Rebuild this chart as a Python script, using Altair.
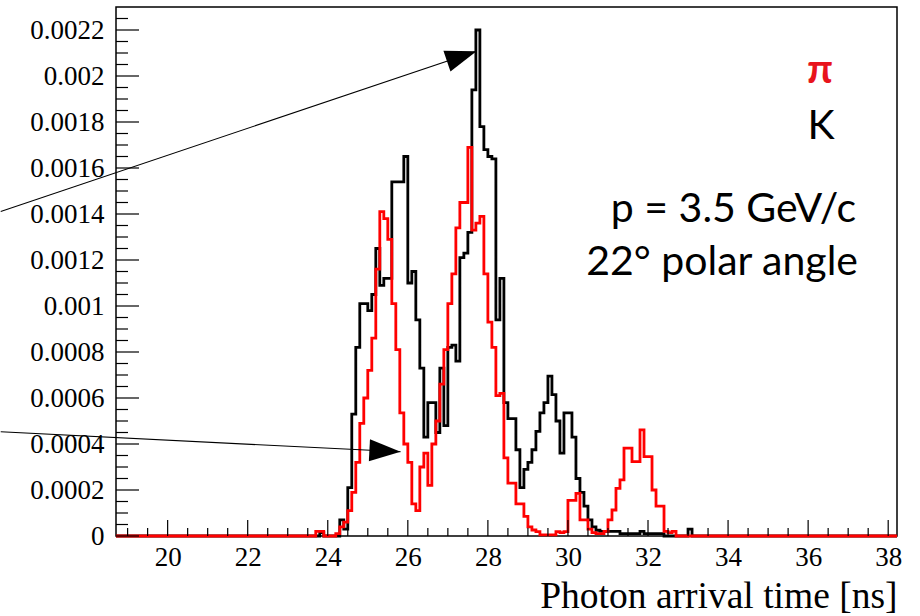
import altair as alt
import pandas as pd

# ---------------- data (values in units of 1e-4) ----------------
BIN_START = 23.5
BIN_WIDTH = 0.1
SCALE = 1e-4

K_VALUES = [
    0, 0, 0, 0.15, 0, 0, 0, 0, 0.7, 0.3,            # 23.5 - 24.4
    2.1, 5.3, 8.2, 10.1, 10.1, 9.8, 10.5, 12.5, 10.9, 11.2,   # 24.5 - 25.4
    11.2, 15.4, 15.4, 15.4, 16.5, 11.0, 11.5, 9.4, 7.3, 4.3,  # 25.5 - 26.4
    5.8, 5.8, 4.5, 7.3, 4.8, 8.2, 8.3, 7.6, 12.1, 12.3,       # 26.5 - 27.4
    13.2, 19.4, 22.0, 17.8, 16.8, 16.5, 16.4, 9.4, 11.2, 5.8, # 27.5 - 28.4
    5.1, 5.1, 3.75, 2.1, 2.9, 3.2, 3.75, 4.55, 5.35, 5.8,     # 28.5 - 29.4
    6.95, 6.15, 5.0, 3.6, 5.35, 5.35, 4.3, 2.5, 1.9, 1.3,     # 29.5 - 30.4
    0.7, 0.4, 0.25, 0.2, 0.2, 0.2, 0.2, 0.2, 0.1, 0.1,        # 30.5 - 31.4
    0.1, 0.1, 0.1, 0.2, 0.1, 0.1, 0.1, 0.1, 0.1, 0,           # 31.5 - 32.4
    0, 0, 0, 0, 0, 0.3, 0, 0, 0, 0,                           # 32.5 - 33.4
]

PI_VALUES = [
    0, 0, 0.2, 0.2, 0, 0, 0, 0.1, 0.4, 0.6,                   # 23.5 - 24.4
    1.1, 1.9, 3.2, 4.9, 6.0, 7.2, 8.6, 11.6, 14.1, 13.8,      # 24.5 - 25.4
    12.9, 10.1, 8.1, 5.35, 4.0, 3.2, 1.4, 1.1, 3.0, 3.6,      # 25.5 - 26.4
    2.2, 4.0, 5.0, 6.6, 8.1, 10.1, 11.4, 13.4, 14.5, 14.5,    # 26.5 - 27.4
    16.9, 13.3, 13.6, 13.9, 11.4, 9.3, 8.2, 6.1, 6.2, 3.4,    # 27.5 - 28.4
    2.3, 2.3, 1.4, 1.4, 0.85, 0.4, 0.26, 0.19, 0.05, 0.05,    # 28.5 - 29.4
    0.05, 0.05, 0.19, 0.15, 0.19, 1.55, 1.55, 1.85, 0.7, 0.7, # 29.5 - 30.4
    0.3, 0.15, 0.1, 0.1, 0.2, 0.7, 1.13, 2.07, 2.44, 3.82,    # 30.5 - 31.4
    3.82, 3.23, 3.23, 4.61, 3.45, 3.45, 2.0, 1.3, 1.3, 0.2,   # 31.5 - 32.4
    0.15, 0.2, 0, 0, 0, 0, 0, 0, 0, 0,                        # 32.5 - 33.4
]

X_DOMAIN = [18.71, 38.22]
Y_DOMAIN = [0, 0.0023]
X_MAJOR = [20, 22, 24, 26, 28, 30, 32, 34, 36, 38]
Y_MAJOR = [0, 0.0002, 0.0004, 0.0006, 0.0008, 0.001, 0.0012,
           0.0014, 0.0016, 0.0018, 0.002, 0.0022]

# arrow annotations (data coordinates): start and tip
ARROW_START_X = [15.83, 15.83]
ARROW_START_Y = [0.001411, 0.000453]
ARROW_TIP_X = [27.716, 25.819]
ARROW_TIP_Y = [0.002108, 0.000366]
ARROW_ANGLE = [341.4, 2.9]

# ---------------- build tables ----------------
def step_table(values, name):
    rows = [{"ns": X_DOMAIN[0], "v": 0.0, "s": name}]
    for i, v in enumerate(values):
        rows.append({"ns": round(BIN_START + i * BIN_WIDTH, 3), "v": v * SCALE, "s": name})
    rows.append({"ns": round(BIN_START + len(values) * BIN_WIDTH, 3), "v": 0.0, "s": name})
    rows.append({"ns": X_DOMAIN[1], "v": 0.0, "s": name})
    return pd.DataFrame(rows)

k_df = step_table(K_VALUES, "K")
pi_df = step_table(PI_VALUES, "pi")

x_minor = [19 + 0.5 * i for i in range(39) if (19 + 0.5 * i) not in X_MAJOR]
y_minor = [i * 0.00005 for i in range(46) if i % 4 != 0]

W, H = 781, 529
SERIF = "Liberation Serif"
SANS = "Lato"

xs = alt.Scale(domain=X_DOMAIN, nice=False, zero=False)
ys = alt.Scale(domain=Y_DOMAIN, nice=False)

x_axis = alt.Axis(values=X_MAJOR, format="d", labelFont=SERIF, labelFontSize=27,
                  labelColor="black", ticks=False, domain=False, grid=False,
                  labelPadding=8, labelFlush=False, labelOverlap=False,
                  title="Photon arrival time [ns]", titleFont=SERIF, titleFontSize=37.5,
                  titleFontWeight="normal", titleColor="black", titleAlign="right",
                  titleAnchor="end", titleX=W, titleY=71, titleBaseline="alphabetic")
y_axis = alt.Axis(values=Y_MAJOR, format="~g", labelFont=SERIF, labelFontSize=27,
                  labelColor="black", ticks=False, domain=False, grid=False,
                  labelPadding=12, labelFlush=False, labelOverlap=False, title="")


def X(field):
    return alt.X(field, type="quantitative", scale=xs, axis=x_axis)


def Y(field):
    return alt.Y(field, type="quantitative", scale=ys, axis=y_axis)


k_line = alt.Chart(k_df).mark_line(interpolate="step-after", color="black", strokeWidth=2.8).encode(
    x=X("ns"), y=Y("v"))
pi_line = alt.Chart(pi_df).mark_line(interpolate="step-after", color="#ff0000", strokeWidth=2.8).encode(
    x=X("ns"), y=Y("v"))

# ticks drawn inside the frame
ytick_major = alt.Chart(pd.DataFrame({"v": Y_MAJOR})).mark_rule(
    color="black", strokeWidth=1.2).encode(y=Y("v"), x=alt.value(0), x2=alt.value(23))
ytick_minor = alt.Chart(pd.DataFrame({"v": y_minor})).mark_rule(color="black", strokeWidth=1.2).encode(
    y=Y("v"), x=alt.value(0), x2=alt.value(12))
xtick_major = alt.Chart(pd.DataFrame({"ns": X_MAJOR})).mark_rule(color="black", strokeWidth=1.2).encode(
    x=X("ns"), y=alt.value(H), y2=alt.value(H - 16))
xtick_minor = alt.Chart(pd.DataFrame({"ns": x_minor})).mark_rule(color="black", strokeWidth=1.2).encode(
    x=X("ns"), y=alt.value(H), y2=alt.value(H - 8))

# arrows
arrow_df = pd.DataFrame({
    "ns": ARROW_START_X + ARROW_TIP_X,
    "v": ARROW_START_Y + ARROW_TIP_Y,
    "a": [0, 1, 0, 1],
})
arrow_lines = alt.Chart(arrow_df).mark_line(color="black", strokeWidth=1.1).encode(
    x=X("ns"), y=Y("v"), detail="a:N")
TRI = "M0,0L-1.95,-0.69L-1.95,0.69Z"
heads = []
for i in range(2):
    hd = pd.DataFrame({"ns": [ARROW_TIP_X[i]], "v": [ARROW_TIP_Y[i]]})
    heads.append(alt.Chart(hd).mark_point(shape=TRI, size=1024, filled=True, color="black",
                                          opacity=1, strokeWidth=0, angle=ARROW_ANGLE[i]).encode(
        x=X("ns"), y=Y("v")))

one = pd.DataFrame({"a": [0]})


def label(text, x, y, color="black", weight="normal", align="center"):
    return alt.Chart(one).mark_text(text=text, font=SANS, fontSize=41, color=color,
                                    fontWeight=weight, align=align, baseline="alphabetic").encode(
        x=alt.value(x), y=alt.value(y))


texts = [
    label("π", 704, 76, color="#e8141c", weight="bold"),
    label("K", 705, 132),
    label("p = 3.5 GeV/c", 740, 215, align="right"),
    label("22° polar angle", 742, 268, align="right"),
]

chart = alt.layer(
    k_line, pi_line, ytick_major, ytick_minor, xtick_major, xtick_minor,
    arrow_lines, *heads, *texts
).properties(
    width=W, height=H,
    padding={"left": 116, "top": 7, "right": 23, "bottom": 80},
    autosize=alt.AutoSizeParams(type="none"),
    background="white",
).configure_view(stroke="black", strokeWidth=1.5)

chart.save("out.html", embed_options={"renderer": "svg", "actions": False})
